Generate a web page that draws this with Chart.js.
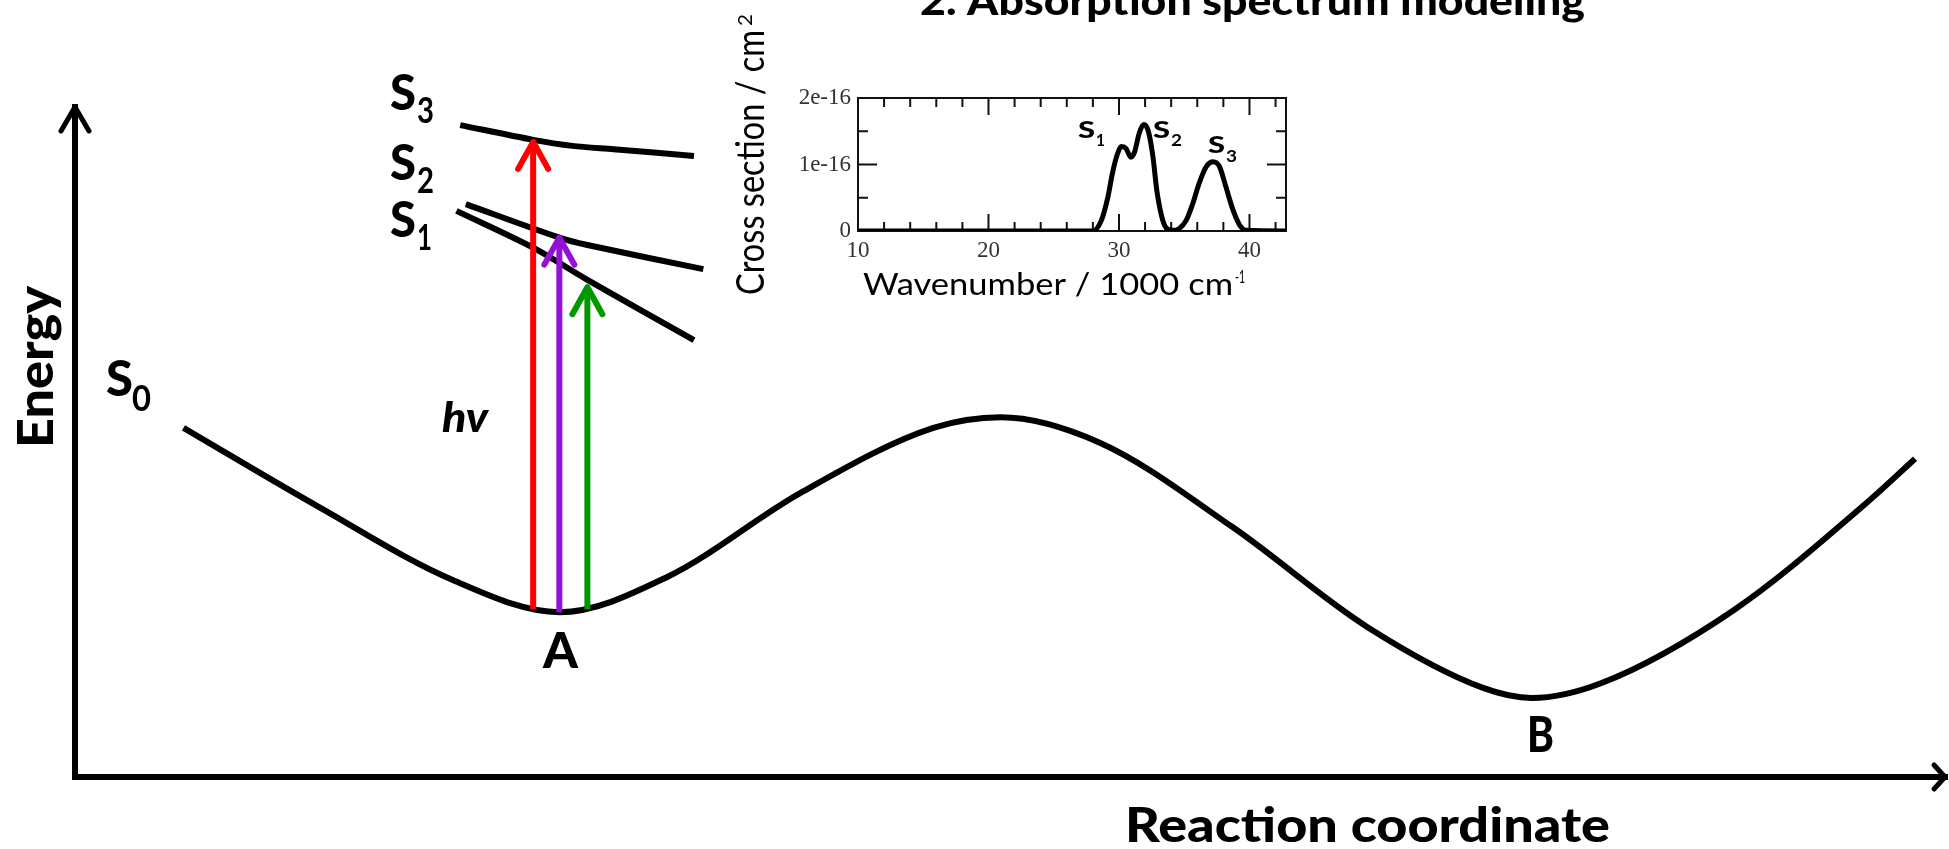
<!DOCTYPE html>
<html>
<head>
<meta charset="utf-8">
<script src="https://cdn.jsdelivr.net/npm/chart.js@4.4.1/dist/chart.umd.min.js"></script>
<style>
  html, body { margin: 0; background: #fff; overflow: hidden; }
  #wrap { position: relative; width: 1949px; height: 849px; }
  canvas { position: absolute; left: 0; top: 0; }
</style>
</head>
<body>
<div id="wrap">
  <canvas id="main" width="1949" height="849"></canvas>
  <canvas id="inset" width="1949" height="849"></canvas>
</div>
<script>
// Potential energy curves (reaction coordinate and energy in arbitrary units, 0-100)
const groundX = [5.8, 13.1, 20.2, 25.9, 31.7, 38.8, 45.9, 49.5, 54.8, 61.9, 69.1, 75.3, 77.9, 81.6, 88.7, 95.8, 98.4];
const groundE = [52.1, 40.2, 29.4, 24.6, 29.9, 42.4, 52.1, 53.7, 49.9, 37.3, 22.4, 13.3, 11.8, 14.0, 24.9, 40.9, 47.5];

const s1X = [20.4, 24.5, 27.4, 33.1];
const s1E = [84.5, 79.0, 74.2, 65.2];
const s2X = [20.9, 25.9, 27.4, 33.6];
const s2E = [85.5, 80.5, 79.4, 75.8];
const s3X = [20.6, 24.5, 26.6, 28.8, 33.1];
const s3E = [97.3, 95.1, 94.2, 93.7, 92.7];

// excitation arrows (hv)
const arrowX = [24.5, 25.9, 27.4];
const arrowFrom = [25.0, 24.6, 25.0];
const arrowTo = [94.8, 80.5, 73.1];
const arrowColors = ['#ff0000', '#9410d4', '#009800'];

// Absorption spectrum (wavenumber / 1000 cm-1, cross section in units of 1e-16 cm2)
const waveNumber = [10, 28.0, 28.65, 29.15, 29.5, 29.85, 30.2, 30.55, 30.9, 31.2, 31.55, 31.9, 32.25, 32.6, 32.9, 33.25, 33.6, 34.1, 34.6, 35.15, 35.65, 36.15, 36.7, 37.2, 37.7, 38.2, 38.75, 39.25, 39.75, 42.8];
const crossSection = [0, 0, 0.16, 0.51, 0.87, 1.14, 1.27, 1.24, 1.11, 1.19, 1.47, 1.6, 1.5, 1.12, 0.61, 0.24, 0.05, 0.01, 0.035, 0.16, 0.41, 0.72, 0.97, 1.04, 0.97, 0.66, 0.31, 0.09, 0.01, 0];

const xMajorTicks = [10, 20, 30, 40];
const xMinorTicks = [12, 14, 16, 18, 22, 24, 26, 28, 32, 34, 36, 38, 42];
const yMajorTicks = [0, 1, 2];
const yMinorTicks = [0.5, 1.5];

const pts = (xs, ys) => xs.map((x, i) => ({ x: x, y: ys[i] }));

// text helper: draws and squeezes text to a given width (Calibri look)
function put(ctx, s, x, y, o) {
  ctx.save();
  ctx.font = (o.italic ? 'italic ' : '') + (o.weight || 900) + ' ' + o.size + 'px ' + (o.family || 'Lato');
  ctx.fillStyle = o.color || '#000';
  ctx.textAlign = 'left';
  ctx.textBaseline = 'alphabetic';
  ctx.translate(x, y);
  if (o.rot) ctx.rotate(o.rot);
  if (o.w) ctx.scale(o.w / ctx.measureText(s).width, 1);
  ctx.fillText(s, 0, 0);
  ctx.restore();
}

function line(ctx, x1, y1, x2, y2) {
  ctx.beginPath();
  ctx.moveTo(x1, y1);
  ctx.lineTo(x2, y2);
  ctx.stroke();
}

const mainDecor = {
  id: 'mainDecor',
  afterDatasetsDraw(chart) {
    const ctx = chart.ctx;
    const x = chart.scales.x, y = chart.scales.y;
    const x0 = x.getPixelForValue(0), y0 = y.getPixelForValue(0);
    const yTop = y.getPixelForValue(100), xEnd = x.getPixelForValue(100);

    ctx.save();
    ctx.strokeStyle = '#000';
    ctx.lineWidth = 6;
    ctx.lineCap = 'square';
    line(ctx, x0, y0, x0, yTop);
    line(ctx, x0, y0, xEnd, y0);
    ctx.lineCap = 'round';
    ctx.lineJoin = 'round';
    ctx.lineWidth = 5;
    ctx.beginPath();
    ctx.moveTo(x0 - 14, yTop + 24); ctx.lineTo(x0, yTop); ctx.lineTo(x0 + 14, yTop + 24);
    ctx.stroke();
    ctx.beginPath();
    ctx.moveTo(xEnd - 11, y0 - 12); ctx.lineTo(xEnd, y0); ctx.lineTo(xEnd - 11, y0 + 12);
    ctx.stroke();

    // arrow heads
    ctx.lineWidth = 6;
    arrowX.forEach((ax, i) => {
      const px = x.getPixelForValue(ax), py = y.getPixelForValue(arrowTo[i]);
      ctx.strokeStyle = arrowColors[i];
      ctx.beginPath();
      ctx.moveTo(px - 15, py + 27); ctx.lineTo(px, py); ctx.lineTo(px + 15, py + 27);
      ctx.stroke();
    });
    ctx.restore();

    put(ctx, 'Energy', 53, 448, { size: 49, w: 162, rot: -Math.PI / 2 });
    put(ctx, 'Reaction coordinate', 1125, 842, { size: 47, w: 485 });
    put(ctx, 'S', 106, 396, { size: 49, w: 27 });
    put(ctx, '0', 132, 411, { size: 37, w: 19, weight: 700 });
    put(ctx, 'S', 390, 110, { size: 49, w: 26 });
    put(ctx, '3', 417, 123, { size: 36, w: 17, weight: 700 });
    put(ctx, 'S', 390, 180, { size: 49, w: 26 });
    put(ctx, '2', 417, 193, { size: 36, w: 17, weight: 700 });
    put(ctx, 'S', 390, 237, { size: 49, w: 26 });
    put(ctx, '1', 417, 250, { size: 36, w: 15, weight: 700 });
    put(ctx, 'hv', 442, 432, { size: 42, w: 46, italic: true });
    put(ctx, 'A', 543, 668, { size: 50, w: 35 });
    put(ctx, 'B', 1527, 752, { size: 49, w: 27 });
  }
};

const black = { borderColor: '#000', borderWidth: 6, pointRadius: 0, fill: false };

new Chart(document.getElementById('main'), {
  type: 'line',
  data: {
    datasets: [
      ...arrowX.map((ax, i) => ({
        data: [{ x: ax, y: arrowFrom[i] }, { x: ax, y: arrowTo[i] }],
        borderColor: arrowColors[i], borderWidth: 6, pointRadius: 0, fill: false
      })),
      { ...black, data: pts(groundX, groundE), cubicInterpolationMode: 'monotone' },
      { ...black, data: pts(s1X, s1E), tension: 0.3 },
      { ...black, data: pts(s2X, s2E), tension: 0.3 },
      { ...black, data: pts(s3X, s3E), tension: 0.3 }
    ]
  },
  options: {
    responsive: false,
    animation: false,
    layout: { padding: { left: 75, right: 4, top: 107, bottom: 72 } },
    plugins: { legend: { display: false }, tooltip: { enabled: false } },
    scales: {
      x: { type: 'linear', min: 0, max: 100, display: false },
      y: { type: 'linear', min: 0, max: 100, display: false }
    }
  },
  plugins: [mainDecor]
});

const insetDecor = {
  id: 'insetDecor',
  beforeDatasetsDraw(chart) {
    const ctx = chart.ctx, a = chart.chartArea;
    const x = chart.scales.x, y = chart.scales.y;
    ctx.save();
    ctx.strokeStyle = '#111';
    ctx.lineWidth = 2;
    ctx.strokeRect(a.left, a.top, a.right - a.left, a.bottom - a.top);
    const xt = (v, len) => {
      const p = x.getPixelForValue(v);
      line(ctx, p, a.bottom, p, a.bottom - len);
      line(ctx, p, a.top, p, a.top + len);
    };
    const yt = (v, len) => {
      const p = y.getPixelForValue(v);
      line(ctx, a.left, p, a.left + len, p);
      line(ctx, a.right, p, a.right - len, p);
    };
    xMajorTicks.forEach(v => xt(v, 17));
    xMinorTicks.forEach(v => xt(v, 9));
    yMajorTicks.forEach(v => yt(v, 19));
    yMinorTicks.forEach(v => yt(v, 10));
    ctx.restore();
  },
  afterDatasetsDraw(chart) {
    const ctx = chart.ctx;
    put(ctx, '2. Absorption spectrum modeling', 920, 15, { size: 40, w: 665 });
    put(ctx, 'Wavenumber / 1000 cm', 863, 295, { size: 31, w: 370, weight: 400 });
    put(ctx, '-1', 1235, 283, { size: 18, w: 10, weight: 400 });
    put(ctx, 'Cross section / cm', 764, 295, { size: 38, w: 265, weight: 400, rot: -Math.PI / 2 });
    put(ctx, '2', 752, 26, { size: 20, w: 12, weight: 400, rot: -Math.PI / 2 });
    put(ctx, 'S', 1078, 138, { size: 23, w: 17 });
    put(ctx, '1', 1096, 146, { size: 17, w: 9, weight: 700 });
    put(ctx, 'S', 1153, 138, { size: 23, w: 17 });
    put(ctx, '2', 1171, 146, { size: 17, w: 11, weight: 700 });
    put(ctx, 'S', 1208, 153, { size: 23, w: 17 });
    put(ctx, '3', 1226, 162, { size: 17, w: 11, weight: 700 });
  }
};

const tickFont = { family: '"Liberation Serif", "DejaVu Serif", serif', size: 23 };

new Chart(document.getElementById('inset'), {
  type: 'line',
  data: {
    datasets: [{
      data: pts(waveNumber, crossSection),
      borderColor: '#000', borderWidth: 5, pointRadius: 0, fill: false,
      cubicInterpolationMode: 'monotone'
    }]
  },
  options: {
    responsive: false,
    animation: false,
    layout: { padding: { left: 798, right: 663, top: 98, bottom: 588 } },
    plugins: { legend: { display: false }, tooltip: { enabled: false } },
    scales: {
      x: {
        type: 'linear', min: 10, max: 42.8,
        grid: { display: false, drawTicks: false }, border: { display: false },
        ticks: { stepSize: 10, includeBounds: false, font: tickFont, color: '#333', padding: 6, maxRotation: 0 },
        afterFit: s => { s.height = 30; }
      },
      y: {
        type: 'linear', min: 0, max: 2,
        grid: { display: false, drawTicks: false }, border: { display: false },
        ticks: { stepSize: 1, font: tickFont, color: '#333', padding: 7,
          callback: v => v === 0 ? '0' : v + 'e-16' },
        afterFit: s => { s.width = 60; }
      }
    }
  },
  plugins: [insetDecor]
});
</script>
</body>
</html>
